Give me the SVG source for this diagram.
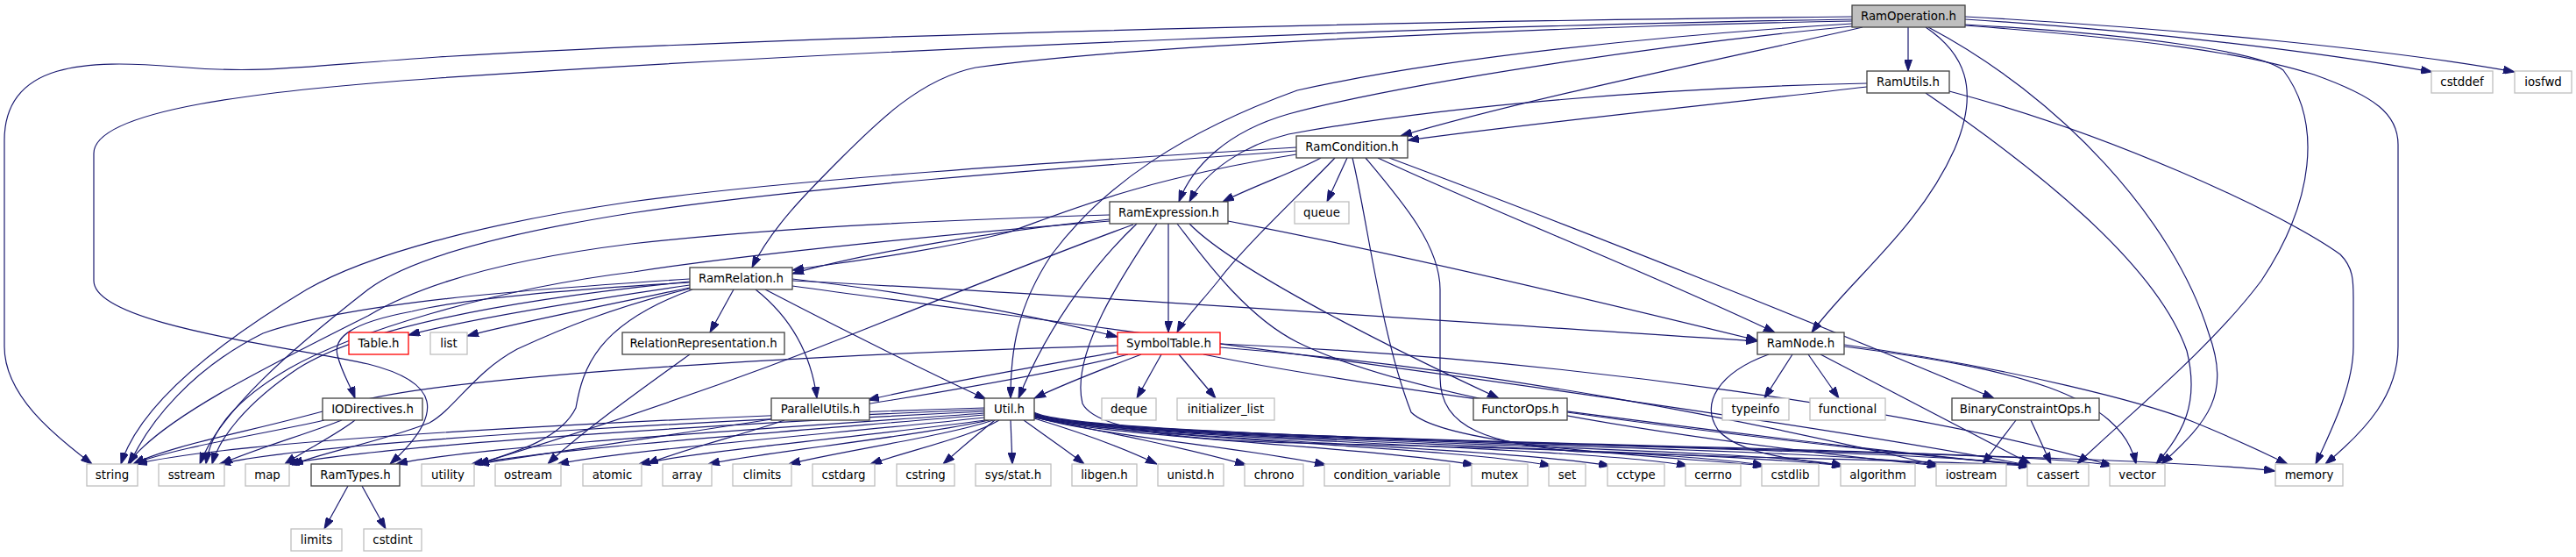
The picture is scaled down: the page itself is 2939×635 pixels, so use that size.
<svg xmlns="http://www.w3.org/2000/svg" width="2939" height="635" viewBox="0 0 2939 635">
<style>
rect{fill:#fff;stroke-width:1.3}
.p rect{stroke:#404040}
.s rect{stroke:#bfbfbf}
.r rect{stroke:#ff0000}
.root rect{fill:#bfbfbf;stroke:#404040}
text{font-family:"DejaVu Sans",sans-serif;font-size:13.33px;fill:#000;text-anchor:middle}
#edges path{fill:none;stroke:#191970;stroke-width:1.2;marker-end:url(#a)}
</style>
<defs>
<marker id="a" viewBox="0 0 13 9" markerWidth="13" markerHeight="9" refX="13" refY="4.5" orient="auto" markerUnits="userSpaceOnUse">
<path d="M0,0 L13,4.5 L0,9 z" fill="#191970" stroke="#191970" stroke-width="1"/>
</marker>
</defs>
<rect x="0" y="0" width="2939" height="635" style="fill:#fff;stroke:none"/>
<g id="edges">
<path d="M2177,31 L2177,81"/>
<path d="M2125,31 C2000,60 1750,110 1598,155"/>
<path d="M2113,30 C1900,50 1600,95 1470,130 C1400,150 1360,190 1345,230"/>
<path d="M2113,24 C1800,30 1300,50 1113,77 C1050,90 1000,140 960,180 C920,220 880,260 858,305"/>
<path d="M2197,31 C2240,60 2260,100 2230,170 C2190,260 2110,320 2067,379"/>
<path d="M2113,27 C1900,40 1650,65 1480,103 C1350,150 1260,210 1200,290 C1160,350 1153,400 1153,454"/>
<path d="M2113,22 C1700,28 1000,55 500,89 C300,103 107,125 107,175 L107,320 C107,370 330,395 420,415 C500,435 510,470 445,529"/>
<path d="M2113,19 C1800,22 1000,35 500,65 C350,75 300,85 200,76 C100,68 5,70 5,160 L5,395 C5,450 60,495 105,529"/>
<path d="M2242,22 C2450,35 2650,60 2775,82"/>
<path d="M2242,19 C2500,33 2750,60 2869,82"/>
<path d="M2242,28 C2450,40 2580,60 2605,80 C2650,140 2640,230 2580,320 C2520,400 2420,480 2370,529"/>
<path d="M2200,31 C2350,110 2480,250 2520,380 C2545,450 2520,480 2466,529"/>
<path d="M2242,29 C2450,45 2560,60 2640,85 C2710,110 2736,130 2736,165 L2736,395 C2736,450 2700,490 2653,529"/>
<path d="M2130,99 C1950,120 1750,140 1606,160"/>
<path d="M2130,95 C1900,100 1650,120 1470,153 C1420,165 1375,195 1357,230"/>
<path d="M2197,106 C2320,190 2460,300 2495,400 C2510,460 2490,495 2460,529"/>
<path d="M2224,104 C2400,150 2600,240 2670,290 C2685,305 2685,320 2685,340 L2685,395 C2685,440 2660,490 2642,529"/>
<path d="M1507,180 C1480,195 1430,212 1395,230"/>
<path d="M1537,180 L1514,230"/>
<path d="M1523,180 C1490,215 1420,280 1390,320 C1370,345 1350,365 1343,379"/>
<path d="M1572,180 C1700,240 1880,310 2025,379"/>
<path d="M1585,180 C1800,260 2100,380 2275,454"/>
<path d="M1479,176 C1300,205 1220,240 1150,265 C1050,290 950,300 904,308"/>
<path d="M1479,168 C1200,185 900,205 720,230 C550,255 420,290 350,330 C250,390 160,460 138,529"/>
<path d="M1479,172 C1200,192 900,215 720,243 C550,270 460,300 420,330 C330,400 250,470 228,529"/>
<path d="M1543,180 C1560,250 1575,380 1610,470 C1650,510 1900,520 2013,531"/>
<path d="M1558,180 C1600,230 1643,280 1643,330 L1643,430 C1643,490 1700,505 1800,515 C2000,522 2200,525 2316,531"/>
<path d="M1333,255 L1333,379"/>
<path d="M1266,250 C1150,262 1000,285 904,312"/>
<path d="M1297,255 C1260,290 1200,360 1162,454"/>
<path d="M1401,252 C1600,290 1850,350 2005,388"/>
<path d="M1357,255 C1400,300 1550,380 1710,454"/>
<path d="M1293,256 C1200,290 1050,350 980,378 C800,450 640,500 545,529"/>
<path d="M1266,245 C1100,250 900,258 720,278 C560,298 470,330 420,360 C300,420 180,480 146,529"/>
<path d="M1266,252 C1100,265 850,290 723,310 C560,330 400,380 330,420 C270,455 240,490 235,529"/>
<path d="M1320,255 C1290,300 1220,400 1235,460 C1250,490 1350,502 1480,505 C1800,512 2000,520 2103,531"/>
<path d="M1343,255 C1370,290 1420,360 1480,390 C1600,450 1900,500 2212,531"/>
<path d="M787,325 C650,345 530,365 466,382"/>
<path d="M787,328 C680,350 580,370 533,383"/>
<path d="M837,330 L810,379"/>
<path d="M862,330 C900,360 925,400 932,454"/>
<path d="M787,322 C650,330 530,340 470,355 C400,368 380,385 385,405 C390,425 400,440 405,454"/>
<path d="M873,330 C950,370 1050,420 1125,455"/>
<path d="M904,318 C1050,335 1180,360 1275,384"/>
<path d="M904,320 C1300,340 1700,370 2005,389"/>
<path d="M904,326 C1300,380 2000,470 2318,531"/>
<path d="M787,318 C600,330 400,345 300,380 C220,420 170,480 148,529"/>
<path d="M787,321 C600,340 420,370 340,420 C280,460 250,500 242,529"/>
<path d="M787,329 C700,350 640,375 590,398 C540,425 520,465 490,482 C430,505 370,515 333,530"/>
<path d="M790,330 C680,370 665,420 657,465 C640,500 590,515 545,529"/>
<path d="M1275,401 C1200,415 1080,435 990,456"/>
<path d="M1302,404 C1260,420 1220,435 1180,454"/>
<path d="M1325,404 L1297,454"/>
<path d="M1345,404 L1387,454"/>
<path d="M1275,394 C900,405 500,430 400,460 C300,490 200,505 152,529"/>
<path d="M1287,404 C1150,440 800,490 545,529"/>
<path d="M1392,396 C1700,420 2000,480 2212,531"/>
<path d="M1373,404 C1600,450 2100,510 2318,531"/>
<path d="M1392,392 C1800,410 2200,470 2410,531"/>
<path d="M895,479 C850,495 780,512 738,529"/>
<path d="M370,479 C300,495 200,510 152,529"/>
<path d="M390,479 C350,495 290,512 252,529"/>
<path d="M405,479 C385,495 350,512 325,529"/>
<path d="M787,404 C730,445 660,495 625,529"/>
<path d="M397,554 L370,603"/>
<path d="M413,554 L440,603"/>
<path d="M2045,404 L2013,454"/>
<path d="M2063,404 L2098,454"/>
<path d="M2077,404 L2317,529"/>
<path d="M2104,395 C2300,420 2420,450 2437,529"/>
<path d="M2104,393 C2300,420 2450,460 2500,480 C2550,500 2580,515 2610,529"/>
<path d="M2018,404 C1960,425 1940,460 1960,490 C1985,520 2060,525 2103,531"/>
<path d="M2300,479 L2262,529"/>
<path d="M2317,479 L2340,529"/>
<path d="M1788,470 C2000,500 2200,520 2318,531"/>
<path d="M1123,465 C900,472 300,495 155,529"/>
<path d="M1123,467 C900,476 380,500 250,529"/>
<path d="M1123,469 C900,480 450,505 328,529"/>
<path d="M1123,471 C950,484 540,508 452,529"/>
<path d="M1123,473 C950,488 640,510 538,529"/>
<path d="M1123,476 C980,492 720,512 636,529"/>
<path d="M1124,479 C1000,496 800,514 729,529"/>
<path d="M1128,479 C1050,497 880,514 808,529"/>
<path d="M1133,479 C1080,497 960,514 900,529"/>
<path d="M1140,479 C1110,497 1040,513 993,529"/>
<path d="M1135,479 C1115,495 1095,512 1076,529"/>
<path d="M1153,479 L1155,529"/>
<path d="M1168,479 C1190,495 1215,512 1237,529"/>
<path d="M1180,477 C1230,492 1280,510 1320,529"/>
<path d="M1180,476 C1260,492 1350,510 1422,530"/>
<path d="M1180,475 C1240,495 1420,510 1513,530"/>
<path d="M1180,475 C1240,497 1550,508 1682,530"/>
<path d="M1180,474 C1240,498 1650,508 1770,531"/>
<path d="M1180,474 C1240,499 1700,508 1837,531"/>
<path d="M1180,473 C1240,500 1800,508 1926,531"/>
<path d="M1180,473 C1240,501 1900,508 2013,531"/>
<path d="M1180,472 C1240,502 2000,508 2103,531"/>
<path d="M1180,472 C1240,503 2100,508 2212,531"/>
<path d="M1180,471 C1240,504 2200,508 2316,531"/>
<path d="M1180,471 C1240,505 2300,508 2410,531"/>
<path d="M1180,470 C1240,506 2400,512 2596,537"/>
</g>
<g id="RamOperation" class="root"><rect x="2113" y="6" width="129" height="25"/><text x="2177.5" y="23">RamOperation.h</text></g>
<g id="RamUtils" class="p"><rect x="2130" y="81" width="94" height="25"/><text x="2177" y="98">RamUtils.h</text></g>
<g id="cstddef" class="s"><rect x="2774" y="81" width="70" height="25"/><text x="2809" y="98">cstddef</text></g>
<g id="iosfwd" class="s"><rect x="2869" y="81" width="65" height="25"/><text x="2901.5" y="98">iosfwd</text></g>
<g id="RamCondition" class="p"><rect x="1479" y="155" width="127" height="25"/><text x="1542.5" y="172">RamCondition.h</text></g>
<g id="RamExpression" class="p"><rect x="1266" y="230" width="135" height="25"/><text x="1333.5" y="247">RamExpression.h</text></g>
<g id="queue" class="s"><rect x="1477" y="230" width="62" height="25"/><text x="1508" y="247">queue</text></g>
<g id="RamRelation" class="p"><rect x="787" y="305" width="117" height="25"/><text x="845.5" y="322">RamRelation.h</text></g>
<g id="Table" class="r"><rect x="398" y="379" width="68" height="25"/><text x="432" y="396">Table.h</text></g>
<g id="list" class="s"><rect x="491" y="379" width="42" height="25"/><text x="512" y="396">list</text></g>
<g id="RelationRepresentation" class="p"><rect x="710" y="379" width="185" height="25"/><text x="802.5" y="396">RelationRepresentation.h</text></g>
<g id="SymbolTable" class="r"><rect x="1275" y="379" width="117" height="25"/><text x="1333.5" y="396">SymbolTable.h</text></g>
<g id="RamNode" class="p"><rect x="2005" y="379" width="99" height="25"/><text x="2054.5" y="396">RamNode.h</text></g>
<g id="IODirectives" class="p"><rect x="368" y="454" width="114" height="25"/><text x="425" y="471">IODirectives.h</text></g>
<g id="ParallelUtils" class="p"><rect x="880" y="454" width="112" height="25"/><text x="936" y="471">ParallelUtils.h</text></g>
<g id="Util" class="p"><rect x="1123" y="454" width="57" height="25"/><text x="1151.5" y="471">Util.h</text></g>
<g id="deque" class="s"><rect x="1257" y="454" width="62" height="25"/><text x="1288" y="471">deque</text></g>
<g id="initializer_list" class="s"><rect x="1343" y="454" width="111" height="25"/><text x="1398.5" y="471">initializer_list</text></g>
<g id="FunctorOps" class="p"><rect x="1681" y="454" width="107" height="25"/><text x="1734.5" y="471">FunctorOps.h</text></g>
<g id="typeinfo" class="s"><rect x="1965" y="454" width="76" height="25"/><text x="2003" y="471">typeinfo</text></g>
<g id="functional" class="s"><rect x="2065" y="454" width="86" height="25"/><text x="2108" y="471">functional</text></g>
<g id="BinaryConstraintOps" class="p"><rect x="2227" y="454" width="168" height="25"/><text x="2311" y="471">BinaryConstraintOps.h</text></g>
<g id="string" class="s"><rect x="99" y="529" width="58" height="25"/><text x="128" y="546">string</text></g>
<g id="sstream" class="s"><rect x="181" y="529" width="75" height="25"/><text x="218.5" y="546">sstream</text></g>
<g id="map" class="s"><rect x="280" y="529" width="50" height="25"/><text x="305" y="546">map</text></g>
<g id="RamTypes" class="p"><rect x="355" y="529" width="101" height="25"/><text x="405.5" y="546">RamTypes.h</text></g>
<g id="utility" class="s"><rect x="481" y="529" width="60" height="25"/><text x="511" y="546">utility</text></g>
<g id="ostream" class="s"><rect x="565" y="529" width="75" height="25"/><text x="602.5" y="546">ostream</text></g>
<g id="atomic" class="s"><rect x="665" y="529" width="67" height="25"/><text x="698.5" y="546">atomic</text></g>
<g id="array" class="s"><rect x="756" y="529" width="56" height="25"/><text x="784" y="546">array</text></g>
<g id="climits" class="s"><rect x="836" y="529" width="67" height="25"/><text x="869.5" y="546">climits</text></g>
<g id="cstdarg" class="s"><rect x="927" y="529" width="71" height="25"/><text x="962.5" y="546">cstdarg</text></g>
<g id="cstring" class="s"><rect x="1023" y="529" width="66" height="25"/><text x="1056" y="546">cstring</text></g>
<g id="sys_stat" class="s"><rect x="1113" y="529" width="86" height="25"/><text x="1156" y="546">sys/stat.h</text></g>
<g id="libgen" class="s"><rect x="1223" y="529" width="74" height="25"/><text x="1260" y="546">libgen.h</text></g>
<g id="unistd" class="s"><rect x="1321" y="529" width="75" height="25"/><text x="1358.5" y="546">unistd.h</text></g>
<g id="chrono" class="s"><rect x="1420" y="529" width="67" height="25"/><text x="1453.5" y="546">chrono</text></g>
<g id="condition_variable" class="s"><rect x="1511" y="529" width="143" height="25"/><text x="1582.5" y="546">condition_variable</text></g>
<g id="mutex" class="s"><rect x="1679" y="529" width="64" height="25"/><text x="1711" y="546">mutex</text></g>
<g id="set" class="s"><rect x="1767" y="529" width="42" height="25"/><text x="1788" y="546">set</text></g>
<g id="cctype" class="s"><rect x="1834" y="529" width="65" height="25"/><text x="1866.5" y="546">cctype</text></g>
<g id="cerrno" class="s"><rect x="1923" y="529" width="63" height="25"/><text x="1954.5" y="546">cerrno</text></g>
<g id="cstdlib" class="s"><rect x="2010" y="529" width="65" height="25"/><text x="2042.5" y="546">cstdlib</text></g>
<g id="algorithm" class="s"><rect x="2100" y="529" width="85" height="25"/><text x="2142.5" y="546">algorithm</text></g>
<g id="iostream" class="s"><rect x="2209" y="529" width="80" height="25"/><text x="2249" y="546">iostream</text></g>
<g id="cassert" class="s"><rect x="2313" y="529" width="70" height="25"/><text x="2348" y="546">cassert</text></g>
<g id="vector" class="s"><rect x="2407" y="529" width="63" height="25"/><text x="2438.5" y="546">vector</text></g>
<g id="memory" class="s"><rect x="2596" y="529" width="77" height="25"/><text x="2634.5" y="546">memory</text></g>
<g id="limits" class="s"><rect x="332" y="603" width="58" height="25"/><text x="361" y="620">limits</text></g>
<g id="cstdint" class="s"><rect x="415" y="603" width="66" height="25"/><text x="448" y="620">cstdint</text></g>
</svg>
